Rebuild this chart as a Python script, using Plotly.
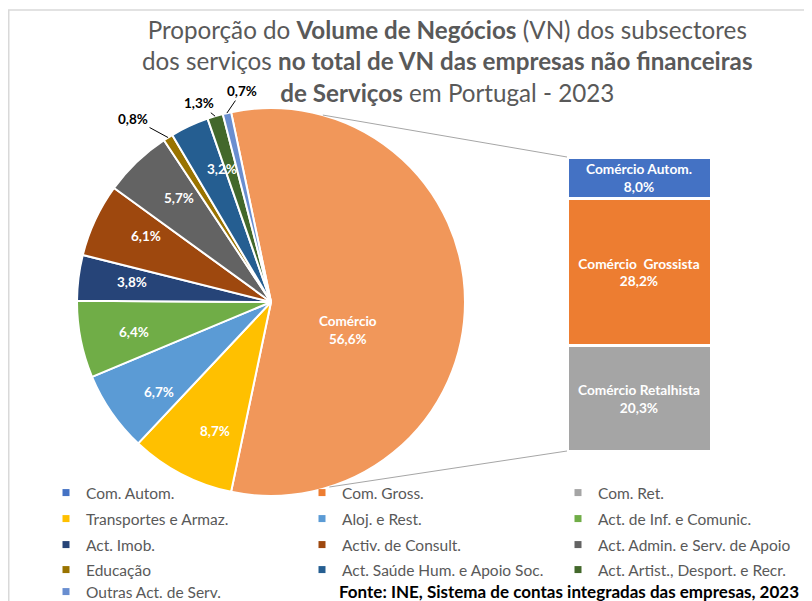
import math
import plotly.graph_objects as go

# the page body has an 8px margin: figure origin sits at screen (8, 8)
OFF = 8
W, H = 812 - OFF, 601 - OFF
FONT = "Lato"

# ---------------- data ----------------
pie_labels = ["Comércio", "Transportes e Armaz.", "Aloj. e Rest.", "Act. de Inf. e Comunic.",
              "Act. Imob.", "Activ. de Consult.", "Act. Admin. e Serv. de Apoio", "Educação",
              "Act. Saúde Hum. e Apoio Soc.", "Act. Artist., Desport. e Recr.", "Outras Act. de Serv."]
pie_values = [56.6, 8.7, 6.7, 6.4, 3.8, 6.1, 5.7, 0.8, 3.2, 1.3, 0.7]
pie_colors = ["#F1975A", "#FFC000", "#5B9BD5", "#70AD47", "#264478", "#9E480E",
              "#636363", "#997300", "#255E91", "#43682B", "#698ED0"]

bar_labels = ["Comércio Autom.", "Comércio  Grossista", "Comércio Retalhista"]
bar_legend = ["Com. Autom.", "Com. Gross.", "Com. Ret."]
bar_values = [8.0, 28.2, 20.3]
bar_colors = ["#4472C4", "#ED7D31", "#A5A5A5"]

outside_idx = [7, 9, 10]                       # small slices labelled outside
outside_offsets = {7: (-35, -19), 9: (-16, -13), 10: (15, -22)}

title_text = ("Proporção do <b>Volume de Negócios</b> (VN) dos subsectores<br>"
              "dos serviços <b>no total de VN das empresas não financeiras</b><br>"
              "<b>de Serviços</b> em Portugal - 2023")
source_text = "<b>Fonte: INE, Sistema de contas integradas das empresas, 2023</b>"


def fmt(v):
    return f"{v:.1f}".replace(".", ",") + "%"


# ---------------- geometry (screen pixels) ----------------
CX, CY, R = 271, 302, 194
BAR_X0, BAR_X1, BAR_Y0, BAR_Y1 = 567, 711, 157, 451
LEGEND_X = 46
LEGEND_ROW_TOPS = [476, 502, 528, 553, 575]
LEGEND_COLS = 3


def px2paper(x, y):
    return (x - OFF) / W, 1 - (y - OFF) / H


total = sum(pie_values)
rotation = 90 - pie_values[0] / total * 360 / 2

fig = go.Figure()

px0, py0 = px2paper(CX - R, CY + R)
px1, py1 = px2paper(CX + R, CY - R)
fig.add_trace(go.Pie(
    labels=pie_labels, values=pie_values, sort=False, direction="clockwise",
    rotation=rotation,
    marker=dict(colors=pie_colors, line=dict(color="white", width=2)),
    textinfo="none", hoverinfo="label+percent", showlegend=False,
    domain=dict(x=[px0, px1], y=[py0, py1]),
))

# stacked bar (bottom to top)
for lab, v, c in reversed(list(zip(bar_labels, bar_values, bar_colors))):
    fig.add_trace(go.Bar(
        x=[0], y=[v], width=1, name=lab, showlegend=False,
        marker=dict(color=c, line=dict(color="white", width=3)),
        text=[f"{lab}<br>{fmt(v)}"], textposition="inside", insidetextanchor="middle",
        textfont=dict(color="white", size=13.7, family=FONT, weight=700),
        hoverinfo="name+y",
    ))

# legend entries (one horizontal legend per row of three)
legend_names = bar_legend + pie_labels[1:]
legend_colors = bar_colors + pie_colors[1:]
for k, (n, c) in enumerate(zip(legend_names, legend_colors)):
    row = k // LEGEND_COLS
    fig.add_trace(go.Scatter(
        x=[None], y=[None], mode="markers", name=n,
        legend="legend" if row == 0 else f"legend{row + 1}",
        marker=dict(symbol="square", size=7, color=c), hoverinfo="skip",
    ))

# slice labels
annotations = []
cum = 0
for i, (v, lab) in enumerate(zip(pie_values, pie_labels)):
    mid = rotation + (cum + v / 2) / total * 360
    cum += v
    if i == 0:
        a = math.radians(mid + 20)
        rr = 0.42 * R
        x, y = px2paper(CX + rr * math.sin(a), CY - rr * math.cos(a))
        annotations.append(dict(x=x, y=y, xref="paper", yref="paper", showarrow=False,
                                text=f"<b>{lab}<br>{fmt(v)}</b>",
                                font=dict(color="white", size=13.5, family=FONT)))
    elif i in outside_idx:
        a = math.radians(mid)
        x, y = px2paper(CX + R * math.sin(a), CY - R * math.cos(a))
        ax, ay = outside_offsets[i]
        annotations.append(dict(x=x, y=y, xref="paper", yref="paper", showarrow=True,
                                ax=ax, ay=ay, arrowhead=0, arrowwidth=1, arrowcolor="#000000",
                                text=f"<b>{fmt(v)}</b>",
                                font=dict(color="black", size=13.5, family=FONT)))
    else:
        a = math.radians(mid)
        rr = 0.81 * R
        x, y = px2paper(CX + rr * math.sin(a), CY - rr * math.cos(a))
        annotations.append(dict(x=x, y=y, xref="paper", yref="paper", showarrow=False,
                                text=f"<b>{fmt(v)}</b>",
                                font=dict(color="white", size=13.5, family=FONT)))

# title
tx, ty = px2paper(447, 60.5)
annotations.append(dict(x=tx, y=ty, xref="paper", yref="paper",
                        xanchor="center", yanchor="middle", showarrow=False, align="center",
                        text=title_text, font=dict(color="#595959", size=24.2, family=FONT)))
# source
sx, sy = px2paper(801, 591)
annotations.append(dict(x=sx, y=sy, xref="paper", yref="paper",
                        xanchor="right", yanchor="middle", showarrow=False,
                        text=source_text, font=dict(color="black", size=17, family=FONT)))

# connector lines pie -> bar
shapes = []
for ang, (bx, by) in [(15.5, (BAR_X0, BAR_Y0)), (162.5, (BAR_X0, BAR_Y1))]:
    a = math.radians(ang)
    x0, y0 = px2paper(CX + R * math.sin(a), CY - R * math.cos(a))
    x1, y1 = px2paper(bx, by)
    shapes.append(dict(type="line", xref="paper", yref="paper", x0=x0, y0=y0, x1=x1, y1=y1,
                       line=dict(color="#A6A6A6", width=1)))
# chart-area border
bx0, by1 = px2paper(8.75, 10)
shapes.append(dict(type="rect", xref="paper", yref="paper", x0=bx0, y0=-0.05, x1=1.05,
                   y1=by1, line=dict(color="#D9D9D9", width=1.5)))

bxd0, byd1 = px2paper(BAR_X0, BAR_Y0)
bxd1, byd0 = px2paper(BAR_X1, BAR_Y1)

legend_layout = {}
for r, top in enumerate(LEGEND_ROW_TOPS):
    lx, ly = px2paper(LEGEND_X, top)
    legend_layout["legend" if r == 0 else f"legend{r + 1}"] = dict(
        orientation="h", x=lx, xanchor="left", y=ly, yanchor="top",
        entrywidth=211, entrywidthmode="pixels", traceorder="normal",
        font=dict(size=15.5, color="#595959", family=FONT), bgcolor="rgba(0,0,0,0)")

fig.update_layout(
    width=W, height=H,
    margin=dict(l=0, r=0, t=0, b=0, autoexpand=False),
    paper_bgcolor="white", plot_bgcolor="white",
    font=dict(family=FONT, color="#595959"),
    barmode="stack",
    uniformtext=dict(minsize=13, mode="show"),
    xaxis=dict(domain=[bxd0, bxd1], range=[-0.5, 0.5], visible=False, fixedrange=True),
    yaxis=dict(domain=[byd0, byd1], range=[0, sum(bar_values)], visible=False, fixedrange=True),
    annotations=annotations,
    shapes=shapes,
    **legend_layout,
)

fig.write_html("out.html")
